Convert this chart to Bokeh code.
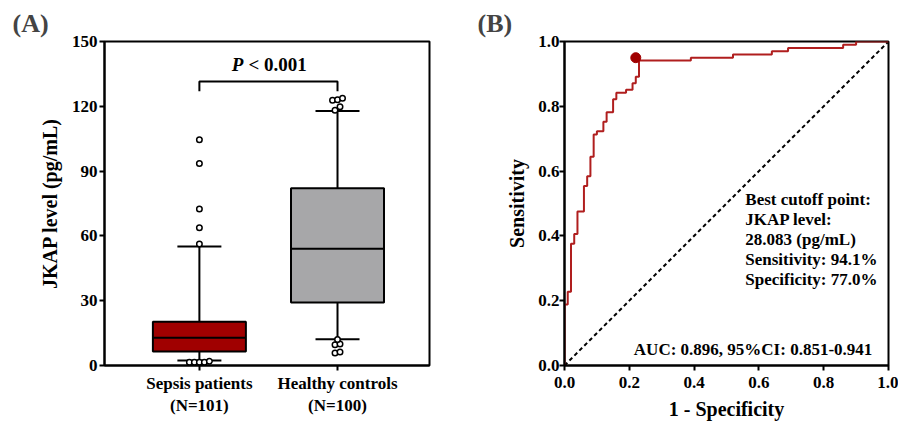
import numpy as np
from bokeh.plotting import figure
from bokeh.layouts import row
from bokeh.models import Range1d, FixedTicker, PrintfTickFormatter
from bokeh.embed import file_html
from bokeh.resources import INLINE
from bokeh.core.properties import value

# ---------------- data ----------------
categories = ["Sepsis patients\n(N=101)", "Healthy controls\n(N=100)"]
box_q1 = [6.5, 29.2]
box_median = [12.8, 54.1]
box_q3 = [20.3, 82.1]
whisker_low = [2.3, 12.2]
whisker_high = [55.1, 117.8]
outliers_sepsis = [104.5, 93.5, 72.5, 63.8, 56.2, 2.0, 1.5, 1.5, 1.5, 1.5]
outliers_healthy = [123.7, 123.0, 122.8, 119.8, 118.2, 12.0, 10.0, 9.6, 6.2, 5.8]
box_colors = ["#A00000", "#A7A7A9"]
y_ticks_a = [0, 30, 60, 90, 120, 150]
p_label = "< 0.001"

roc_fpr = [0.0, 0.0, 0.01, 0.02, 0.03, 0.04, 0.06, 0.07, 0.08, 0.09, 0.10, 0.12, 0.13,
           0.15, 0.16, 0.19, 0.21, 0.22, 0.23, 0.39, 0.52, 0.64, 0.69, 0.86, 0.90, 1.0]
roc_tpr = [0.0, 0.188, 0.228, 0.376, 0.406, 0.475, 0.554, 0.584, 0.644, 0.713, 0.723, 0.752, 0.782,
           0.822, 0.842, 0.851, 0.871, 0.891, 0.941, 0.950, 0.960, 0.970, 0.980, 0.990, 1.0, 1.0]
cutoff_fpr = [0.22]
cutoff_tpr = [0.95]
roc_ticks = [0.0, 0.2, 0.4, 0.6, 0.8, 1.0]
cutoff_lines = ["Best cutoff point:", "JKAP level:", "28.083 (pg/mL)",
                "Sensitivity: 94.1%", "Specificity: 77.0%"]
auc_text = "AUC: 0.896, 95%CI: 0.851-0.941"

# ---------------- style ----------------
FONT = "Liberation Serif"
H = 422
RED = "#A00000"
ROC_RED = "#B01E1E"


def style_axes(p):
    p.outline_line_color = "black"
    p.outline_line_width = 2
    p.xgrid.grid_line_color = None
    p.ygrid.grid_line_color = None
    for ax in (p.xaxis[0], p.yaxis[0]):
        ax.axis_line_width = 2
        ax.major_tick_line_width = 2
        ax.major_tick_in = 0
        ax.major_tick_out = 5
        ax.minor_tick_line_color = None
        ax.major_label_text_font = FONT
        ax.major_label_text_font_style = "bold"
        ax.major_label_text_font_size = "17px"
        ax.major_label_text_color = "black"
        ax.axis_label_text_font = FONT
        ax.axis_label_text_font_style = "bold"
        ax.axis_label_text_font_size = "20px"
        ax.axis_label_text_color = "black"


def style_title(p, text, offset):
    p.title.text = text
    p.title.text_font = FONT
    p.title.text_font_size = "26px"
    p.title.text_font_style = "bold"
    p.title.offset = offset
    p.title.standoff = 7


# ---------------- panel A ----------------
FW_A = 325
x_start, x_end = 0.313, 2.666
px_per_unit = FW_A / (x_end - x_start)
pa = figure(width=450, height=H, output_backend="svg", toolbar_location=None,
            x_range=Range1d(x_start, x_end), y_range=Range1d(0, 150),
            min_border_left=104, min_border_right=21, min_border_top=40, min_border_bottom=57)
style_title(pa, "(A)", -92)
style_axes(pa)

xs = np.arange(len(categories)) + 1.0
box_w = 93 / px_per_unit
cap_w = 44 / px_per_unit

pa.xaxis.ticker = FixedTicker(ticks=list(xs))
pa.xaxis.major_label_overrides = {float(x): c for x, c in zip(xs, categories)}
pa.xaxis.major_label_standoff = 3
pa.yaxis.ticker = FixedTicker(ticks=y_ticks_a)
pa.yaxis.major_label_standoff = 2
pa.yaxis.axis_label = "JKAP level (pg/mL)"
pa.yaxis.axis_label_standoff = 8

# whiskers
pa.segment(x0=xs, x1=xs, y0=box_q3, y1=whisker_high, line_color="black", line_width=2)
pa.segment(x0=xs, x1=xs, y0=whisker_low, y1=box_q1, line_color="black", line_width=2)
pa.segment(x0=xs - cap_w / 2, x1=xs + cap_w / 2, y0=whisker_high, y1=whisker_high,
           line_color="black", line_width=2)
pa.segment(x0=xs - cap_w / 2, x1=xs + cap_w / 2, y0=whisker_low, y1=whisker_low,
           line_color="black", line_width=2)
# boxes
pa.vbar(x=xs, width=box_w, bottom=box_q1, top=box_q3, fill_color=box_colors,
        line_color="black", line_width=2)
pa.segment(x0=xs - box_w / 2, x1=xs + box_w / 2, y0=box_median, y1=box_median,
           line_color="black", line_width=2)


def dodge(vals, center, tol=1.9, step_px=5.0):
    vals = sorted(vals)
    groups, cur = [], [vals[0]]
    for v in vals[1:]:
        if v - cur[-1] < tol:
            cur.append(v)
        else:
            groups.append(cur)
            cur = [v]
    groups.append(cur)
    ox, oy = [], []
    for g in groups:
        n = len(g)
        for i, v in enumerate(g):
            ox.append(center + (i - (n - 1) / 2) * step_px / px_per_unit)
            oy.append(v)
    return ox, oy


for x, outs in zip(xs, [outliers_sepsis, outliers_healthy]):
    ox, oy = dodge(outs, x)
    pa.scatter(ox, oy, marker="circle", size=5.5, fill_color="white",
               line_color="black", line_width=1.5)

# significance bracket
bracket_top, bracket_drop = 131.5, 4.5
pa.line(x=[xs[0], xs[0], xs[1], xs[1]],
        y=[bracket_top - bracket_drop, bracket_top, bracket_top, bracket_top - bracket_drop],
        line_color="black", line_width=2)
mid = (xs[0] + xs[1]) / 2
pa.text(x=[mid], y=[139.5], text=["P"], text_font=value(FONT), text_font_style="bold italic",
        text_font_size="19px", text_align="right", text_baseline="middle", x_offset=-25)
pa.text(x=[mid], y=[139.5], text=[p_label], text_font=value(FONT), text_font_style="bold",
        text_font_size="19px", text_align="left", text_baseline="middle", x_offset=-20)

# ---------------- panel B ----------------
FH_B = 324
pb = figure(width=448, height=H, output_backend="svg", toolbar_location=None,
            x_range=Range1d(0, 1), y_range=Range1d(0, 1),
            min_border_left=114, min_border_right=10, min_border_top=41, min_border_bottom=57)
style_title(pb, "(B)", -87)
style_axes(pb)
pb.xaxis.ticker = FixedTicker(ticks=roc_ticks)
pb.yaxis.ticker = FixedTicker(ticks=roc_ticks)
pb.xaxis.formatter = PrintfTickFormatter(format="%.1f")
pb.yaxis.formatter = PrintfTickFormatter(format="%.1f")
pb.xaxis.axis_label = "1 - Specificity"
pb.yaxis.axis_label = "Sensitivity"
pb.xaxis.major_label_standoff = 6
pb.xaxis.axis_label_standoff = 7
pb.yaxis.major_label_standoff = 0
pb.yaxis.axis_label_standoff = 7

pb.line(x=[roc_ticks[0], roc_ticks[-1]], y=[roc_ticks[0], roc_ticks[-1]],
        line_color="black", line_width=2, line_dash="4 3")
pb.step(x=roc_fpr, y=roc_tpr, mode="after", line_color=ROC_RED, line_width=2)
pb.scatter(cutoff_fpr, cutoff_tpr, marker="circle", size=10, fill_color=RED, line_color=RED)

line_step = 20 / FH_B
pb.text(x=[0.558] * len(cutoff_lines),
        y=[0.512 - i * line_step for i in range(len(cutoff_lines))],
        text=cutoff_lines, text_font=value(FONT), text_font_style="bold",
        text_font_size="17px", text_align="left", text_baseline="middle")
pb.text(x=[0.95], y=[0.049], text=[auc_text], text_font=value(FONT), text_font_style="bold",
        text_font_size="17px", text_align="right", text_baseline="middle")

layout = row(pa, pb, spacing=0)
open("out.html", "w").write(file_html(layout, INLINE))
